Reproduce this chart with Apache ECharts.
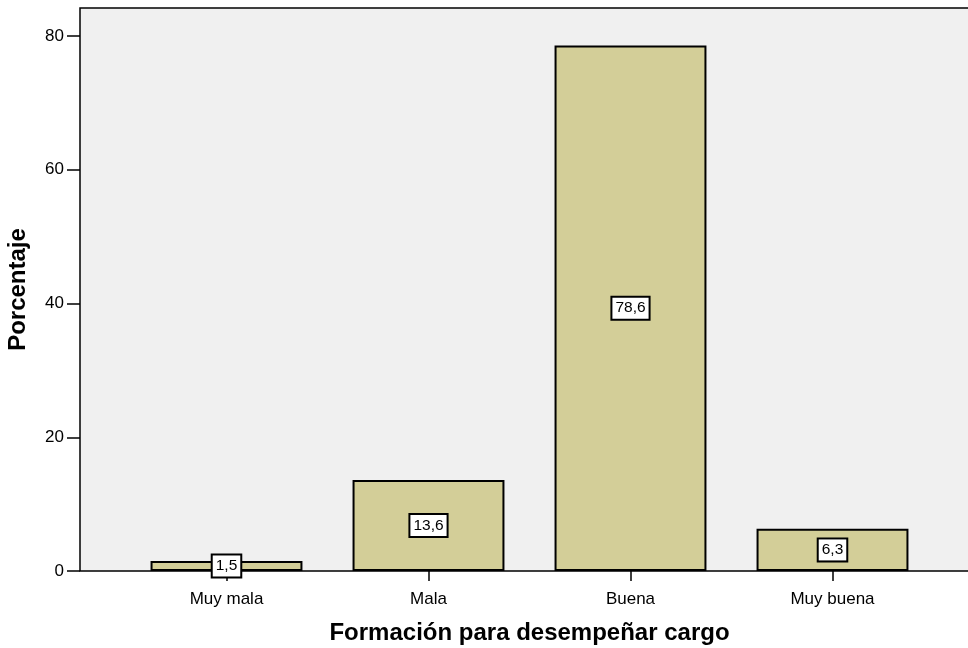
<!DOCTYPE html>
<html>
<head>
<meta charset="utf-8">
<script src="https://cdn.jsdelivr.net/npm/echarts@6/dist/echarts.min.js"></script>
<style>html,body{margin:0;padding:0;background:#fff}#c{width:968px;height:648px}</style>
</head>
<body>
<div id="c"></div>
<script>
const categories = ['Muy mala', 'Mala', 'Buena', 'Muy buena'];
const values = [1.5, 13.6, 78.6, 6.3];
const yTicks = [0, 20, 40, 60, 80];
const xTitle = 'Formación para desempeñar cargo';
const yTitle = 'Porcentaje';

const chart = echarts.init(document.getElementById('c'), null, {renderer: 'canvas'});
const font = 'Liberation Sans, Arial, sans-serif';
const yMax = 84.19;
chart.setOption({
  animation: false,
  backgroundColor: '#ffffff',
  grid: [
    {left: 80, top: 8, right: -10, bottom: 77, show: true, backgroundColor: '#f0f0f0', borderColor: '#000', borderWidth: 1.5, containLabel: false, outerBoundsMode: 'none'},
    {left: 125.5, top: 8, width: 808, bottom: 77, containLabel: false, outerBoundsMode: 'none'}
  ],
  xAxis: [
    {gridIndex: 0, type: 'value', show: false, min: 0, max: 1},
    {gridIndex: 1, type: 'category', data: categories,
     axisLine: {show: false},
     axisTick: {show: true, alignWithLabel: true, length: 10, lineStyle: {color: '#000', width: 1.5}},
     axisLabel: {color: '#000', fontFamily: font, fontSize: 17, margin: 20},
     name: xTitle, nameLocation: 'middle', nameGap: 50,
     nameTextStyle: {color: '#000', fontFamily: font, fontSize: 24, fontWeight: 'bold'}}
  ],
  yAxis: [
    {gridIndex: 0, type: 'value', min: 0, max: yMax, interval: 20,
     axisLine: {show: false},
     axisTick: {show: true, length: 13, lineStyle: {color: '#000', width: 1.5}},
     splitLine: {show: false},
     axisLabel: {color: '#000', fontFamily: font, fontSize: 17, margin: 16,
       showMaxLabel: false,
       formatter: v => yTicks.indexOf(v) >= 0 ? String(v) : ''},
     name: yTitle, nameLocation: 'middle', nameGap: 50, nameRotate: 90,
     nameTextStyle: {color: '#000', fontFamily: font, fontSize: 24, fontWeight: 'bold'}},
    {gridIndex: 1, type: 'value', min: 0, max: yMax, show: false}
  ],
  series: [{
    type: 'bar', xAxisIndex: 1, yAxisIndex: 1,
    data: values,
    barCategoryGap: '24.8%',
    itemStyle: {color: '#d3ce98', borderColor: '#000', borderWidth: 2},
    label: {
      show: true, position: 'inside', color: '#000', fontFamily: font, fontSize: 15.5,
      backgroundColor: '#fff', borderColor: '#000', borderWidth: 2, padding: [3, 3, 2, 3],
      formatter: p => String(p.value).replace('.', ',')
    }
  }]
});
</script>
</body>
</html>
